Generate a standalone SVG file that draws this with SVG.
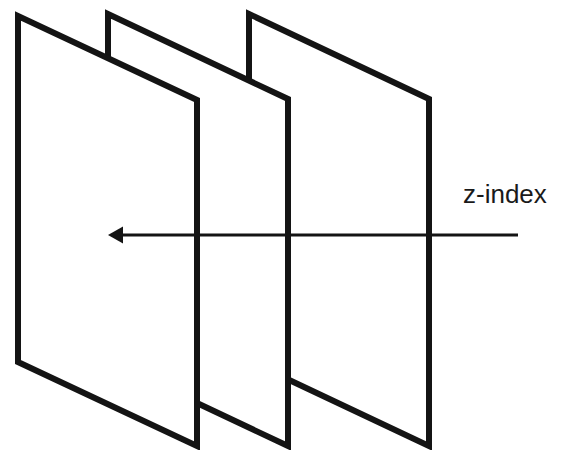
<svg xmlns="http://www.w3.org/2000/svg" width="565" height="450" viewBox="0 0 565 450">
<style>
.panel{fill:#fff;stroke:#141414;stroke-width:6;stroke-linejoin:miter}
.conn{stroke:#141414;stroke-width:3;fill:none}
.head{fill:#141414}
.lbl{font-family:"Liberation Sans",Arial,sans-serif;font-size:26px;fill:#1a1a1a}
</style>
<rect width="565" height="450" fill="#fff"/>
<g id="panel3"><polygon class="panel" points="249,14 429,99 429,446 249,361"/></g>
<g id="panel2"><polygon class="panel" points="108,14 288,99 288,446 108,361"/></g>
<g id="panel1"><polygon class="panel" points="18,16 197,100 197,446 18,362"/></g>
<g id="connectors">
<line class="conn" x1="518" y1="235" x2="121" y2="235"/>
<path class="head" d="M108,235 L123,226.5 L123,243.5 Z"/>
</g>
<g id="label"><text class="lbl" x="463" y="203">z-index</text></g>
</svg>
